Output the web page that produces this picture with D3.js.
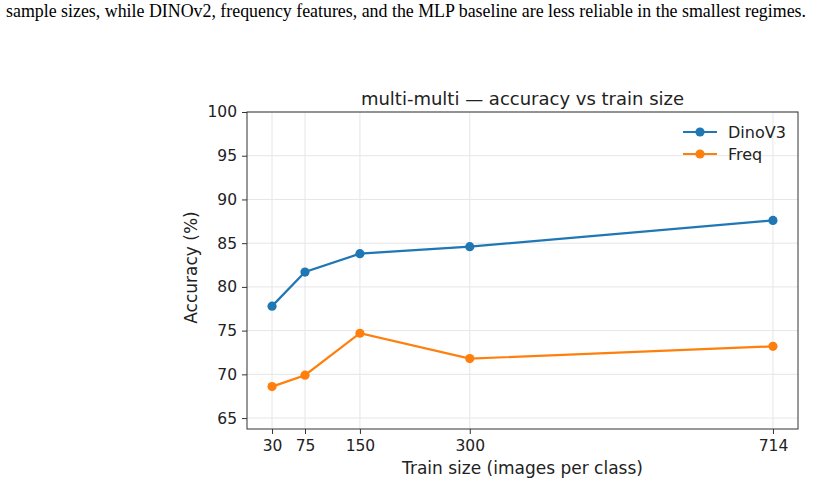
<!DOCTYPE html>
<html>
<head>
<meta charset="utf-8">
<script src="https://cdn.jsdelivr.net/npm/d3@7"></script>
<style>
  body { margin: 0; background: #fff; }
  .caption { font-family: "Liberation Serif", "Times New Roman", serif; font-size: 18px; fill: #000; }
  .chart text { font-family: "DejaVu Sans", sans-serif; fill: #222; }
  .tick line { stroke: #333; }
  .domain { display: none; }
</style>
</head>
<body>
<svg id="fig" width="828" height="486"></svg>
<script>
var trainSizes = [30, 75, 150, 300, 714];
var dinoAcc = [77.8, 81.7, 83.8, 84.6, 87.6];
var freqAcc = [68.6, 69.9, 74.7, 71.8, 73.2];
var yTicks = [65, 70, 75, 80, 85, 90, 95, 100];
var seriesNames = ["DinoV3", "Freq"];
var seriesColors = ["#1f77b4", "#ff7f0e"];

var svg = d3.select("#fig");

// caption fragment above the figure
svg.append("text")
  .attr("class", "caption")
  .attr("x", 6)
  .attr("y", 17)
  .attr("textLength", 800)
  .attr("lengthAdjust", "spacingAndGlyphs")
  .text("sample sizes, while DINOv2, frequency features, and the MLP baseline are less reliable in the smallest regimes.");

var margin = { top: 112, left: 247 };
var width = 798 - 247;
var height = 429 - 112;

var chart = svg.append("g")
  .attr("class", "chart")
  .attr("transform", "translate(" + margin.left + "," + margin.top + ")");

var x = d3.scaleLinear().domain([-4.2, 748.2]).range([0, width]);
var y = d3.scaleLinear().domain([63.75, 100]).range([height, 0]);

// grid
chart.append("g").selectAll("line")
  .data(trainSizes)
  .enter().append("line")
    .attr("x1", function(d) { return x(d); })
    .attr("x2", function(d) { return x(d); })
    .attr("y1", 0).attr("y2", height)
    .attr("stroke", "#e6e6e6").attr("stroke-width", 1);

chart.append("g").selectAll("line")
  .data(yTicks)
  .enter().append("line")
    .attr("x1", 0).attr("x2", width)
    .attr("y1", function(d) { return y(d); })
    .attr("y2", function(d) { return y(d); })
    .attr("stroke", "#e6e6e6").attr("stroke-width", 1);

// axes
var bottomAxis = d3.axisBottom(x).tickValues(trainSizes).tickSize(5).tickPadding(6);
var leftAxis = d3.axisLeft(y).tickValues(yTicks).tickSize(5).tickPadding(5);

chart.append("g")
  .attr("transform", "translate(0," + height + ")")
  .call(bottomAxis)
  .selectAll("text").style("font-size", "15.5px").style("font-family", "DejaVu Sans, sans-serif").attr("fill", "#222");

chart.append("g")
  .call(leftAxis)
  .selectAll("text").style("font-size", "15.5px").style("font-family", "DejaVu Sans, sans-serif").attr("fill", "#222");

// frame
chart.append("rect")
  .attr("width", width).attr("height", height)
  .attr("fill", "none").attr("stroke", "#333").attr("stroke-width", 1);

// series
var allSeries = [dinoAcc, freqAcc];
var line = d3.line()
  .x(function(d, i) { return x(trainSizes[i]); })
  .y(function(d) { return y(d); });

allSeries.forEach(function(vals, k) {
  chart.append("path")
    .datum(vals)
    .attr("d", line)
    .attr("fill", "none")
    .attr("stroke", seriesColors[k])
    .attr("stroke-width", 2.2);

  chart.selectAll(".pt" + k)
    .data(vals)
    .enter().append("circle")
      .attr("class", "pt" + k)
      .attr("cx", function(d, i) { return x(trainSizes[i]); })
      .attr("cy", function(d) { return y(d); })
      .attr("r", 4.6)
      .attr("fill", seriesColors[k]);
});

// legend
var legend = chart.append("g").attr("transform", "translate(" + (width - 115) + ",20)");
seriesNames.forEach(function(name, k) {
  var g = legend.append("g").attr("transform", "translate(0," + (k * 22) + ")");
  g.append("line").attr("x1", 0).attr("x2", 34).attr("y1", 0).attr("y2", 0)
    .attr("stroke", seriesColors[k]).attr("stroke-width", 2.2);
  g.append("circle").attr("cx", 17).attr("cy", 0).attr("r", 4.6).attr("fill", seriesColors[k]);
  g.append("text").attr("x", 45).attr("y", 6).style("font-size", "16px").text(name);
});

// title and labels
chart.append("text")
  .attr("x", width / 2).attr("y", -7)
  .attr("text-anchor", "middle")
  .style("font-size", "18px")
  .text("multi-multi \u2014 accuracy vs train size");

chart.append("text")
  .attr("x", width / 2).attr("y", height + 45)
  .attr("text-anchor", "middle")
  .style("font-size", "17px")
  .text("Train size (images per class)");

chart.append("text")
  .attr("transform", "rotate(-90)")
  .attr("x", -height / 2 + 3).attr("y", -50)
  .attr("text-anchor", "middle")
  .style("font-size", "17px")
  .text("Accuracy (%)");
</script>
</body>
</html>
